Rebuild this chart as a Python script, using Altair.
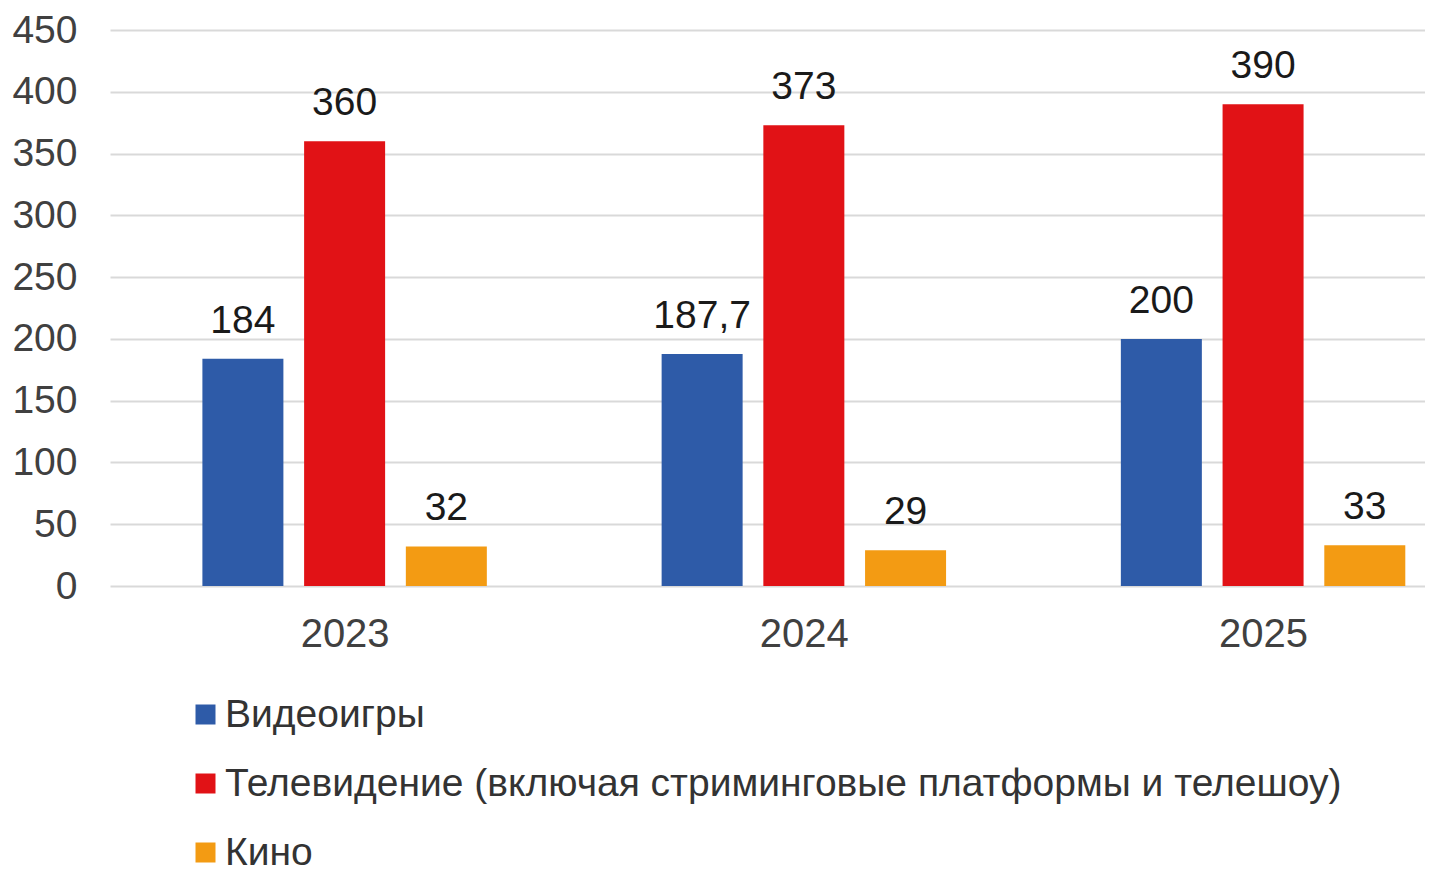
import altair as alt
import pandas as pd

years = ["2023", "2024", "2025"]
categories = ["Видеоигры", "Телевидение (включая стриминговые платформы и телешоу)", "Кино"]
videogames = [184, 187.7, 200]
tv = [360, 373, 390]
cinema = [32, 29, 33]
colors = ["#2E5BA8", "#E11216", "#F39B13"]

rows = []
for i, y in enumerate(years):
    for j, (c, vals) in enumerate(zip(categories, [videogames, tv, cinema])):
        rows.append({"year": y, "yi": i, "ci": j, "cat": c, "value": vals[i]})
df = pd.DataFrame(rows)

FONT = "Liberation Sans"
W, H = 1315, 556
GROUP_STEP = 462.75      # pixel distance between year groups
BAR_STEP = 102.5         # pixel distance between bars inside a group
BAR_W = 81

label_expr = "[" + ",".join("'%s'" % y for y in years) + "][datum.value]"

base = alt.Chart(df).transform_calculate(
    xpos=f"datum.yi + (datum.ci - 1) * {BAR_STEP / GROUP_STEP}",
    lbl="replace(format(datum.value, '~g'), '.', ',')",
).encode(
    x=alt.X("xpos:Q",
            scale=alt.Scale(domain=[-0.5, -0.5 + W / GROUP_STEP], nice=False, zero=False),
            axis=alt.Axis(title=None, values=list(range(len(years))), labelExpr=label_expr,
                          domain=False, ticks=False, grid=False,
                          labelFontSize=40, labelPadding=28, labelColor="#404040",
                          labelFont=FONT)),
    y=alt.Y("value:Q",
            scale=alt.Scale(domain=[0, 450], nice=False),
            axis=alt.Axis(title=None, values=list(range(0, 451, 50)), domain=False, ticks=False,
                          labelFontSize=39, labelPadding=33, labelColor="#404040",
                          labelFont=FONT, gridColor="#D9D9D9", gridWidth=2)),
)

bars = base.mark_bar(size=BAR_W).encode(
    color=alt.Color("cat:N", sort=categories,
                    scale=alt.Scale(domain=categories, range=colors),
                    legend=alt.Legend(title=None, orient="none", legendX=76, legendY=665,
                                      direction="vertical", symbolType="square",
                                      symbolSize=400, symbolStrokeWidth=0,
                                      labelFontSize=39, labelFont=FONT, labelColor="#333333",
                                      rowPadding=29, labelLimit=2000, labelOffset=0))
)

labels = base.mark_text(dy=-26, baseline="alphabetic", fontSize=39, font=FONT,
                        color="#1A1A1A").encode(text="lbl:N")

chart = (bars + labels).properties(
    width=W, height=H,
    autosize=alt.AutoSizeParams(type="none"),
    padding={"left": 102, "top": 22, "right": 0, "bottom": 286},
).configure_view(stroke=None)

chart.save("out.html", embed_options={"renderer": "svg", "actions": False})
